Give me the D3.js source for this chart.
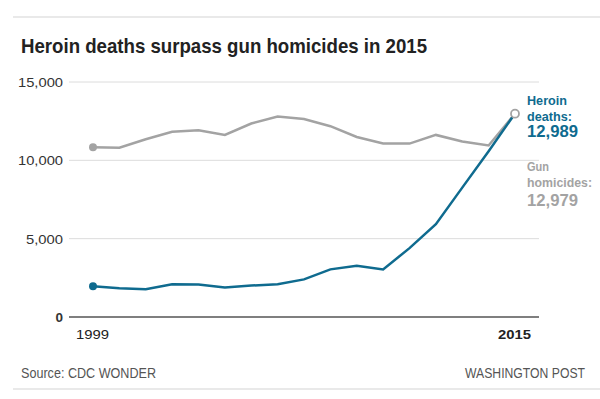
<!DOCTYPE html>
<html>
<head>
<meta charset="utf-8">
<script src="https://cdn.jsdelivr.net/npm/d3@7"></script>
<style>
  body { margin: 0; background: #fff; }
  text { font-family: "Liberation Sans", "Roboto", sans-serif; }
</style>
</head>
<body>
<svg id="chart" width="600" height="399"></svg>
<script>
// data (CDC WONDER)
const years = d3.range(1999, 2016);
const gunHomicides = [10828, 10801, 11348, 11829, 11920, 11624, 12352, 12791, 12632, 12179, 11493, 11078, 11068, 11622, 11208, 10945, 12979];
const heroinDeaths = [1960, 1842, 1779, 2089, 2080, 1878, 2009, 2088, 2399, 3041, 3278, 3036, 4397, 5925, 8257, 10574, 12989];
const yTicks = [0, 5000, 10000, 15000];
const xTickYears = [1999, 2015];

const blue = '#0f6b8f';
const gray = '#a3a3a3';
const fmt = d3.format(',');

const svg = d3.select('#chart');

// the original font is a condensed gothic, so squeeze texts to its widths
const fit = (sel, w) => sel.attr('textLength', w).attr('lengthAdjust', 'spacingAndGlyphs');

// top and bottom rules
svg.append('line').attr('x1', 13).attr('x2', 600).attr('y1', 17).attr('y2', 17)
    .attr('stroke', '#e2e2e2').attr('stroke-width', 1.5);
svg.append('line').attr('x1', 13).attr('x2', 600).attr('y1', 389).attr('y2', 389)
    .attr('stroke', '#e2e2e2').attr('stroke-width', 1.5);

// title
svg.append('text').attr('x', 21).attr('y', 53)
    .attr('font-size', 21).attr('font-weight', 'bold').attr('fill', '#222')
    .text('Heroin deaths surpass gun homicides in 2015')
    .call(fit, 406);

// scales
const x = d3.scaleLinear().domain([1999, 2015]).range([93, 515]);
const y = d3.scaleLinear().domain([0, 15000]).range([317, 82]);

// gridlines + y labels
const gy = svg.append('g');
gy.selectAll('line').data(yTicks).join('line')
    .attr('x1', 69).attr('x2', 539)
    .attr('y1', d => y(d)).attr('y2', d => y(d))
    .attr('stroke', d => d === 0 ? '#555' : '#dcdcdc')
    .attr('stroke-width', d => d === 0 ? 1.3 : 1);
gy.selectAll('text').data(yTicks).join('text')
    .attr('x', 63).attr('y', d => y(d) + 5)
    .attr('text-anchor', 'end').attr('font-size', 13.5)
    .attr('font-weight', d => d === 0 ? 'bold' : 'normal')
    .attr('fill', '#333')
    .text(d => fmt(d))
    .each(function (d) {
        if (d >= 10000) fit(d3.select(this), 45);
        else if (d > 0) fit(d3.select(this), 37);
    });

// x labels
svg.selectAll('.xlab').data(xTickYears).join('text')
    .attr('class', 'xlab')
    .attr('x', d => x(d) - 17).attr('y', 339)
    .attr('font-size', 13.5)
    .attr('font-weight', d => d === 2015 ? 'bold' : 'normal')
    .attr('fill', '#222')
    .text(d => d)
    .call(fit, 33);

// lines
const line = d3.line().x((d, i) => x(years[i])).y(d => y(d));
svg.append('path').datum(gunHomicides).attr('d', line)
    .attr('fill', 'none').attr('stroke', gray).attr('stroke-width', 2.5);
svg.append('path').datum(heroinDeaths).attr('d', line)
    .attr('fill', 'none').attr('stroke', blue).attr('stroke-width', 2.5);

// start dots
svg.append('circle').attr('cx', x(1999)).attr('cy', y(gunHomicides[0])).attr('r', 4).attr('fill', gray);
svg.append('circle').attr('cx', x(1999)).attr('cy', y(heroinDeaths[0])).attr('r', 4).attr('fill', blue);
// end marker
svg.append('circle').attr('cx', x(2015)).attr('cy', y(gunHomicides[16])).attr('r', 4)
    .attr('fill', '#fff').attr('stroke', gray).attr('stroke-width', 1.8);

// end labels
const labels = [
    { t: 'Heroin', y: 105, s: 13.5, c: blue, w: 40 },
    { t: 'deaths:', y: 121, s: 13.5, c: blue, w: 45 },
    { t: fmt(heroinDeaths[16]), y: 137, s: 16, c: blue, w: 51 },
    { t: 'Gun', y: 171, s: 13.5, c: gray, w: 22 },
    { t: 'homicides:', y: 187, s: 13.5, c: gray, w: 65 },
    { t: fmt(gunHomicides[16]), y: 206, s: 16, c: gray, w: 51 }
];
svg.append('g').attr('font-weight', 'bold')
    .selectAll('text').data(labels).join('text')
    .attr('x', 527).attr('y', d => d.y)
    .attr('font-size', d => d.s).attr('fill', d => d.c)
    .attr('textLength', d => d.w).attr('lengthAdjust', 'spacingAndGlyphs')
    .text(d => d.t);

// footer
svg.append('text').attr('x', 21).attr('y', 378).attr('font-size', 14).attr('fill', '#555')
    .text('Source: CDC WONDER').call(fit, 135);
svg.append('text').attr('x', 465).attr('y', 378).attr('font-size', 14).attr('fill', '#555')
    .text('WASHINGTON POST').call(fit, 120);
</script>
</body>
</html>
